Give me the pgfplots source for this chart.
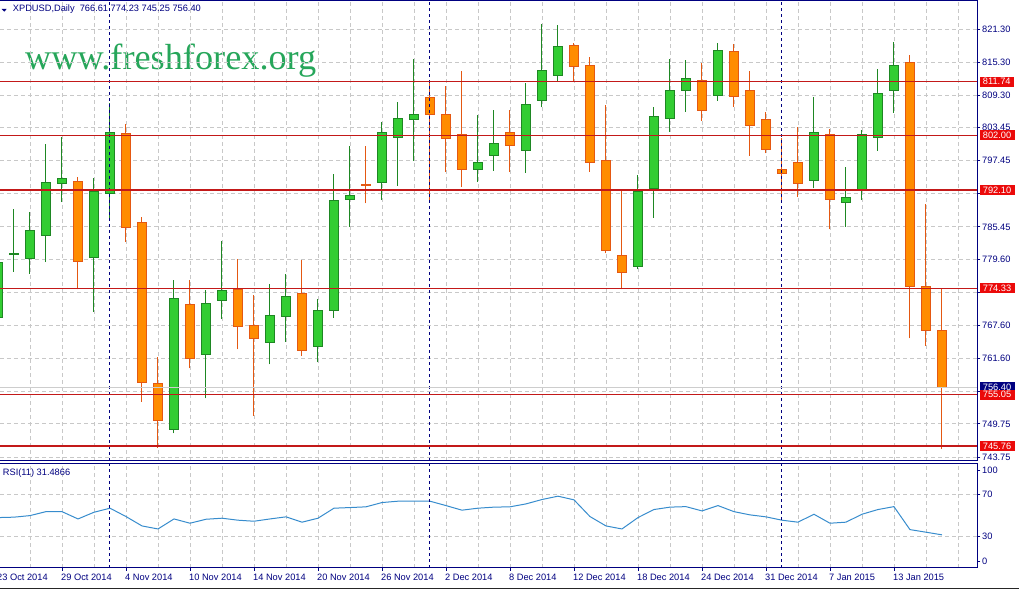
\documentclass[border=0pt]{standalone}
\usepackage{pgfplots}
\pgfplotsset{compat=1.18}
\usepackage{pgfplotstable}
\usepackage{fontspec}
\setmainfont{Liberation Sans}
\newfontfamily\wmfont{Liberation Serif}

\definecolor{navyc}{RGB}{0,0,128}
\definecolor{gridc}{RGB}{200,200,200}
\definecolor{bodyup}{RGB}{50,205,50}
\definecolor{wickup}{RGB}{30,135,35}
\definecolor{bodydn}{RGB}{255,140,0}
\definecolor{wickdn}{RGB}{228,88,18}
\definecolor{hlinec}{RGB}{195,25,25}
\definecolor{boxred}{RGB}{235,10,10}
\definecolor{rsic}{RGB}{55,140,205}
\definecolor{wmgreen}{RGB}{38,166,90}
\definecolor{bidc}{RGB}{205,205,205}

\pgfplotstableread{
k O H L C
0 768.94 779.00 768.80 778.90
1 780.40 788.69 777.27 780.70
2 779.63 788.14 776.91 784.79
3 783.97 800.46 779.08 793.40
4 793.22 801.73 789.95 794.12
5 793.63 794.48 774.14 779.21
6 779.93 794.25 770.08 791.82
7 791.53 807.84 787.06 802.58
8 802.40 804.09 782.76 785.30
9 786.28 787.18 753.77 757.29
10 757.10 761.92 745.44 750.33
11 748.77 775.82 748.05 772.51
12 771.42 775.82 759.82 761.63
13 762.36 774.01 754.39 771.60
14 772.14 782.89 768.75 773.83
15 774.14 779.57 763.27 767.36
16 767.61 773.10 751.18 765.26
17 764.53 775.10 760.55 769.43
18 769.24 776.91 764.64 772.87
19 773.41 779.45 762.05 763.08
20 763.81 772.38 760.91 770.33
21 770.33 795.03 768.99 790.26
22 790.37 800.10 785.48 791.04
23 793.13 800.10 789.72 792.93
24 793.52 804.40 790.32 802.58
25 801.68 808.02 792.91 805.12
26 804.94 815.81 797.44 805.84
27 808.92 811.75 789.95 805.84
28 805.84 810.97 795.44 801.50
29 802.22 813.69 792.73 795.88
30 795.88 805.72 793.63 797.15
31 798.29 806.62 795.63 800.59
32 802.58 806.62 795.44 800.10
33 799.32 811.57 795.26 807.66
34 808.38 822.21 807.11 813.82
35 812.84 822.02 811.93 818.17
36 818.35 818.71 811.75 814.54
37 814.72 816.17 795.44 797.15
38 797.44 807.48 780.66 781.20
39 780.17 792.13 774.14 777.22
40 778.30 794.85 777.76 791.82
41 792.44 807.11 787.11 805.48
42 805.12 815.81 802.69 810.07
43 810.07 815.63 806.32 812.37
44 811.88 815.19 804.68 806.44
45 809.21 818.71 808.31 817.44
46 817.26 818.58 807.22 809.03
47 810.07 813.69 798.34 803.78
48 804.81 806.21 798.78 799.50
49 795.88 801.50 789.95 795.15
50 797.15 803.60 790.91 793.34
51 793.81 809.03 792.44 802.58
52 802.09 803.18 785.01 790.44
53 789.90 796.35 785.48 790.81
54 792.00 803.00 790.32 802.22
55 801.68 814.05 799.25 809.65
56 810.07 818.89 806.13 814.72
57 815.27 816.59 765.26 774.68
58 774.68 789.59 763.92 766.61
59 766.61 774.23 745.25 756.40
}\ohlc

\pgfplotstableread{
k R
0 48.0
1 48.4
2 49.9
3 53.7
4 53.7
5 46.7
6 53.1
7 57.0
8 49.0
9 40.0
10 37.1
11 46.7
12 42.6
13 46.4
14 47.4
15 45.5
16 44.5
17 46.7
18 48.7
19 43.6
20 47.4
21 57.0
22 57.6
23 58.3
24 62.4
25 63.7
26 63.7
27 63.7
28 59.5
29 55.1
30 57.0
31 58.0
32 58.3
33 61.1
34 65.3
35 68.5
36 65.0
37 49.0
38 40.0
39 37.1
40 48.0
41 55.7
42 58.0
43 58.5
44 54.4
45 59.5
46 53.7
47 50.6
48 48.7
49 45.5
50 43.6
51 51.2
52 42.6
53 43.6
54 51.2
55 55.7
56 58.5
57 36.5
58 34.0
59 31.49
}\rsi

\newcommand\sz{\fontsize{9.3}{11}\selectfont}

% build the candle plots from the table (outside the axis)
\newcommand\candles{}
\pgfplotsforeachungrouped \i in {0,...,59}{%
  \pgfplotstablegetelem{\i}{O}\of\ohlc\let\vO\pgfplotsretval
  \pgfplotstablegetelem{\i}{H}\of\ohlc\let\vH\pgfplotsretval
  \pgfplotstablegetelem{\i}{L}\of\ohlc\let\vL\pgfplotsretval
  \pgfplotstablegetelem{\i}{C}\of\ohlc\let\vC\pgfplotsretval
  \ifdim\vC pt<\vO pt\relax\def\bc{bodydn}\def\wc{wickdn}\else\def\bc{bodyup}\def\wc{wickup}\fi
  \pgfmathsetmacro\xa{\i-0.29}\pgfmathsetmacro\xb{\i+0.29}%
  \xdef\candles{\unexpanded\expandafter{\candles}%
    \noexpand\addplot[draw=\wc, line width=1bp, forget plot] coordinates {(\i,\vL) (\i,\vH)};%
    \noexpand\addplot[draw=\wc, fill=\bc, line width=1bp, forget plot] coordinates {(\xa,\vO) (\xb,\vO) (\xb,\vC) (\xa,\vC) (\xa,\vO)};%
  }%
}

\begin{document}
\begin{tikzpicture}[x=1bp,y=1bp]
% watermark
\node[anchor=base west, inner sep=0pt, text=wmgreen, font=\wmfont\fontsize{36.4}{40}\selectfont] at (25bp,519bp) {www.freshforex.org};

\begin{axis}[
  at={(0bp,128.3bp)}, anchor=south west,
  scale only axis, width=977.3bp, height=459.7bp,
  xmin=0.125, xmax=61.21, ymin=743.08, ymax=826.37,
  clip mode=individual,
  axis line style={draw=none},
  xtick={0,2,...,60}, xticklabels={}, xmajorgrids,
  ytick={821.30,815.30,809.30,803.45,797.45,785.45,779.60,767.60,761.60,749.75,743.75},
  yticklabels={821.30,815.30,809.30,803.45,797.45,785.45,779.60,767.60,761.60,749.75,743.75},
  extra y ticks={791.45,773.60,755.60}, extra y tick labels={},
  extra y tick style={grid=major},
  ymajorgrids,
  grid style={gridc, dash pattern=on 4bp off 3bp, line width=0.8bp},
  ytick pos=right, yticklabel pos=right,
  tick align=outside,
  major tick length=3bp,
  x tick style={draw=none},
  y tick style={navyc, line width=0.8bp},
  tick label style={font=\sz, text=navyc},
  yticklabel style={anchor=west, inner sep=0pt, xshift=1.7bp},
  /pgf/number format/assume math mode=true,
]
\candles
% period separators
\pgfplotsinvokeforeach{7,27,49}{%
  \draw[navyc, line width=1bp, dash pattern=on 3bp off 3bp] (axis cs:#1,743.08) -- (axis cs:#1,826.37);
}
% bid line
\draw[bidc, line width=1bp] (axis cs:0.125,756.40) -- (axis cs:61.21,756.40);
\node[fill=navyc, text=white, font=\sz, anchor=west, inner xsep=3.4bp, inner ysep=0pt, minimum height=10bp, xshift=2bp] at (axis cs:61.21,756.40) {756.40};
% horizontal levels
\pgfplotsinvokeforeach{811.74,802.00,792.10,774.33,755.05,745.76}{%
  \draw[hlinec, line width=1.3bp] (axis cs:0.125,#1) -- (axis cs:61.21,#1);
  \node[fill=boxred, text=white, font=\sz, anchor=west, inner xsep=3.4bp, inner ysep=0pt, minimum height=10bp, xshift=2bp] at (axis cs:61.21,#1) {#1};
}
\draw[navyc, line width=1bp] (rel axis cs:0,1) -- (rel axis cs:1,1) -- (rel axis cs:1,0) -- (rel axis cs:0,0);
\end{axis}

\begin{axis}[
  at={(0bp,21.3bp)}, anchor=south west,
  scale only axis, width=977.3bp, height=104.4bp,
  xmin=0.125, xmax=61.21, ymin=0, ymax=100,
  clip mode=individual,
  axis line style={draw=none},
  xtick={0,4,...,56},
  xticklabels={23 Oct 2014,29 Oct 2014,4 Nov 2014,10 Nov 2014,14 Nov 2014,20 Nov 2014,26 Nov 2014,2 Dec 2014,8 Dec 2014,12 Dec 2014,18 Dec 2014,24 Dec 2014,31 Dec 2014,7 Jan 2015,13 Jan 2015},
  minor xtick={2,6,...,58,60},
  xmajorgrids, xminorgrids,
  ytick={5.7,30,70,93.6}, yticklabels={0,30,70,100},
  extra y ticks={30,70}, extra y tick labels={},
  extra y tick style={grid=major, major tick length=0pt},
  grid style={gridc, dash pattern=on 4bp off 3bp, line width=0.8bp},
  minor grid style={gridc, dash pattern=on 4bp off 3bp, line width=0.8bp},
  xtick pos=left, ytick pos=right, yticklabel pos=right,
  tick align=outside,
  major tick length=3bp, minor tick length=0pt,
  tick style={navyc, line width=0.8bp},
  tick label style={font=\sz, text=navyc},
  yticklabel style={anchor=west, inner sep=0pt, xshift=1.7bp},
  xticklabel style={anchor=north west, inner sep=0pt, xshift=-1bp, yshift=-3bp},
  /pgf/number format/assume math mode=true,
]
\addplot[rsic, line width=1bp] table[x=k, y=R] {\rsi};
\pgfplotsinvokeforeach{7,27,49}{%
  \draw[navyc, line width=1bp, dash pattern=on 3bp off 3bp] (axis cs:#1,0) -- (axis cs:#1,100);
}
\node[anchor=north west, inner sep=0pt, font=\sz, text=navyc, xshift=-1bp, yshift=-6bp] at (axis cs:0,0) {23 Oct 2014};
\draw[navyc, line width=1bp] (rel axis cs:0,1) -- (rel axis cs:1,1) -- (rel axis cs:1,0) -- (rel axis cs:0,0);
\end{axis}

% header
\fill[navyc] (1.7bp,580bp) -- (6.7bp,580bp) -- (4.2bp,577.3bp) -- cycle;
\node[anchor=west, inner sep=0pt, text=navyc, font=\sz] at (12.7bp,579.7bp) {XPDUSD,Daily\ \ 766.61 774.23 745.25 756.40};
\node[anchor=west, inner sep=0pt, text=navyc, font=\sz] at (2.7bp,116bp) {RSI(11) 31.4866};
\draw[black!85, line width=1bp] (0bp,0.7bp) -- (1019bp,0.7bp);
\pgfresetboundingbox
\path[use as bounding box] (0bp,0bp) rectangle (1019bp,589bp);
\end{tikzpicture}
\end{document}
